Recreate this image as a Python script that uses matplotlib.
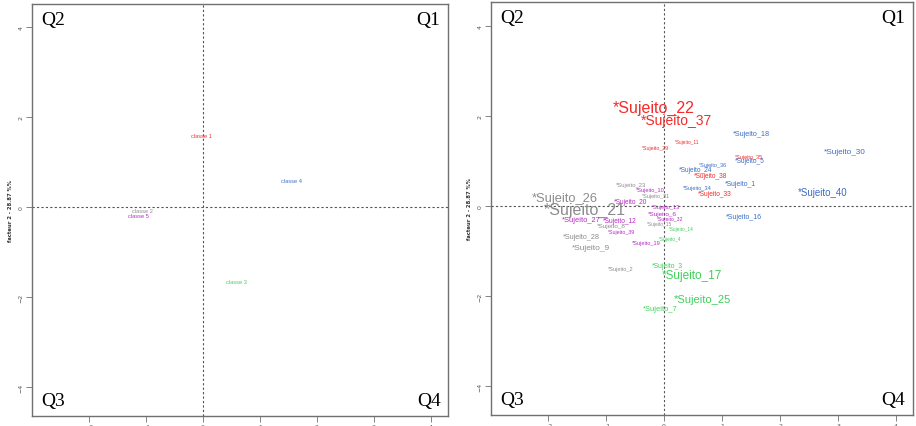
import matplotlib
matplotlib.use("Agg")
import matplotlib.pyplot as plt

# class colours (classe 1..5)
class_colors = {1: "#f52a2a", 2: "#8c8c8c", 3: "#3fcf5a", 4: "#3a6cc8", 5: "#b628c6"}

# left panel: class centroids
classes = ["classe 1", "classe 2", "classe 3", "classe 4", "classe 5"]
class_x = [-0.03, -1.07, 0.58, 1.56, -1.14]
class_y = [1.58, -0.07, -1.66, 0.58, -0.18]
class_id = [1, 2, 3, 4, 5]

# right panel: subjects (label, x, y, class, cex)
subj = ["Sujeito_22", "Sujeito_37", "Sujeito_29", "Sujeito_11", "Sujeito_35", "Sujeito_38", "Sujeito_33",
        "Sujeito_18", "Sujeito_5", "Sujeito_30", "Sujeito_40", "Sujeito_1", "Sujeito_16", "Sujeito_36",
        "Sujeito_24", "Sujeito_34",
        "Sujeito_26", "Sujeito_21", "Sujeito_23", "Sujeito_31", "Sujeito_8", "Sujeito_28", "Sujeito_9",
        "Sujeito_15", "Sujeito_2",
        "Sujeito_27", "Sujeito_12", "Sujeito_39", "Sujeito_20", "Sujeito_10", "Sujeito_13", "Sujeito_6",
        "Sujeito_32", "Sujeito_19",
        "Sujeito_14", "Sujeito_4", "Sujeito_3", "Sujeito_17", "Sujeito_25", "Sujeito_7"]
subj_x = [-0.17, 0.21, -0.15, 0.40, 1.47, 0.81, 0.88,
          1.50, 1.47, 3.12, 2.74, 1.31, 1.37, 0.84,
          0.54, 0.57,
          -1.71, -1.36, -0.57, -0.14, -0.91, -1.43, -1.26,
          -0.07, -0.74,
          -1.43, -0.76, -0.73, -0.57, -0.24, 0.03, -0.03,
          0.10, -0.31,
          0.29, 0.10, 0.05, 0.48, 0.66, -0.07]
subj_y = [2.20, 1.91, 1.31, 1.44, 1.11, 0.67, 0.27,
          1.62, 1.00, 1.20, 0.31, 0.49, -0.24, 0.93,
          0.80, 0.42,
          0.18, -0.07, 0.47, 0.24, -0.44, -0.67, -0.91,
          -0.38, -1.38,
          -0.31, -0.33, -0.56, 0.11, 0.36, -0.02, -0.16,
          -0.27, -0.80,
          -0.49, -0.71, -1.33, -1.53, -2.07, -2.27]
subj_class = [1, 1, 1, 1, 1, 1, 1,
              4, 4, 4, 4, 4, 4, 4,
              4, 4,
              2, 2, 2, 2, 2, 2, 2,
              2, 2,
              5, 5, 5, 5, 5, 5, 5,
              5, 5,
              3, 3, 3, 3, 3, 3]
subj_cex = [11.5, 10.0, 3.8, 3.4, 4.0, 4.7, 4.8,
            5.2, 4.7, 5.9, 7.0, 4.9, 5.0, 4.0,
            4.7, 4.1,
            9.3, 11.5, 4.2, 4.0, 4.6, 5.2, 6.0,
            3.5, 4.1,
            5.4, 4.8, 3.8, 4.7, 4.1, 4.0, 4.6,
            3.7, 4.1,
            3.4, 3.5, 4.9, 8.5, 8.0, 5.4]

xticks = [-2, -1, 0, 1, 2, 3, 4]
yticks = [-4, -2, 0, 2, 4]
ylabel = "facteur 2 - 28.87 %%"

fig = plt.figure(figsize=(9.16, 4.27), dpi=100)
ax1 = fig.add_axes([32 / 916, 10 / 427, 416 / 916, 412 / 427])
ax2 = fig.add_axes([491 / 916, 11 / 427, 422 / 916, 413 / 427])


def style_axes(ax, xlim, ylim):
    ax.set_xlim(*xlim)
    ax.set_ylim(*ylim)
    for s in ax.spines.values():
        s.set_color("#707070")
        s.set_linewidth(1.0)
    ax.set_xticks(xticks)
    ax.set_yticks(yticks)
    ax.tick_params(direction="out", length=4, width=0.6, color="#707070",
                   labelsize=4.5, labelcolor="#555555", pad=2)
    for lab in ax.get_yticklabels():
        lab.set_rotation(90)
        lab.set_va("center")
    ax.axhline(0, color="#555555", lw=0.8, ls=(0, (2, 2)))
    ax.axvline(0, color="#555555", lw=0.8, ls=(0, (2, 2)))
    ax.set_ylabel(ylabel, fontsize=3.8, color="#333333", fontweight="bold", labelpad=4)
    qkw = dict(transform=ax.transAxes, fontsize=14, family="Liberation Serif", color="black")
    ax.text(0.022, 0.982, "Q2", ha="left", va="top", **qkw)
    ax.text(0.982, 0.982, "Q1", ha="right", va="top", **qkw)
    ax.text(0.022, 0.018, "Q3", ha="left", va="bottom", **qkw)
    ax.text(0.982, 0.018, "Q4", ha="right", va="bottom", **qkw)


style_axes(ax1, (-3.0, 4.30), (-4.64, 4.51))
style_axes(ax2, (-2.98, 4.29), (-4.64, 4.53))

for lab, x, y, c in zip(classes, class_x, class_y, class_id):
    ax1.text(x, y, lab, color=class_colors[c], fontsize=4.1, family="Liberation Sans",
             ha="center", va="center")

for lab, x, y, c, s in zip(subj, subj_x, subj_y, subj_class, subj_cex):
    ax2.text(x, y, "*" + lab, color=class_colors[c], fontsize=s, family="Liberation Sans",
             ha="center", va="center")

fig.savefig("out.png", dpi=100)
